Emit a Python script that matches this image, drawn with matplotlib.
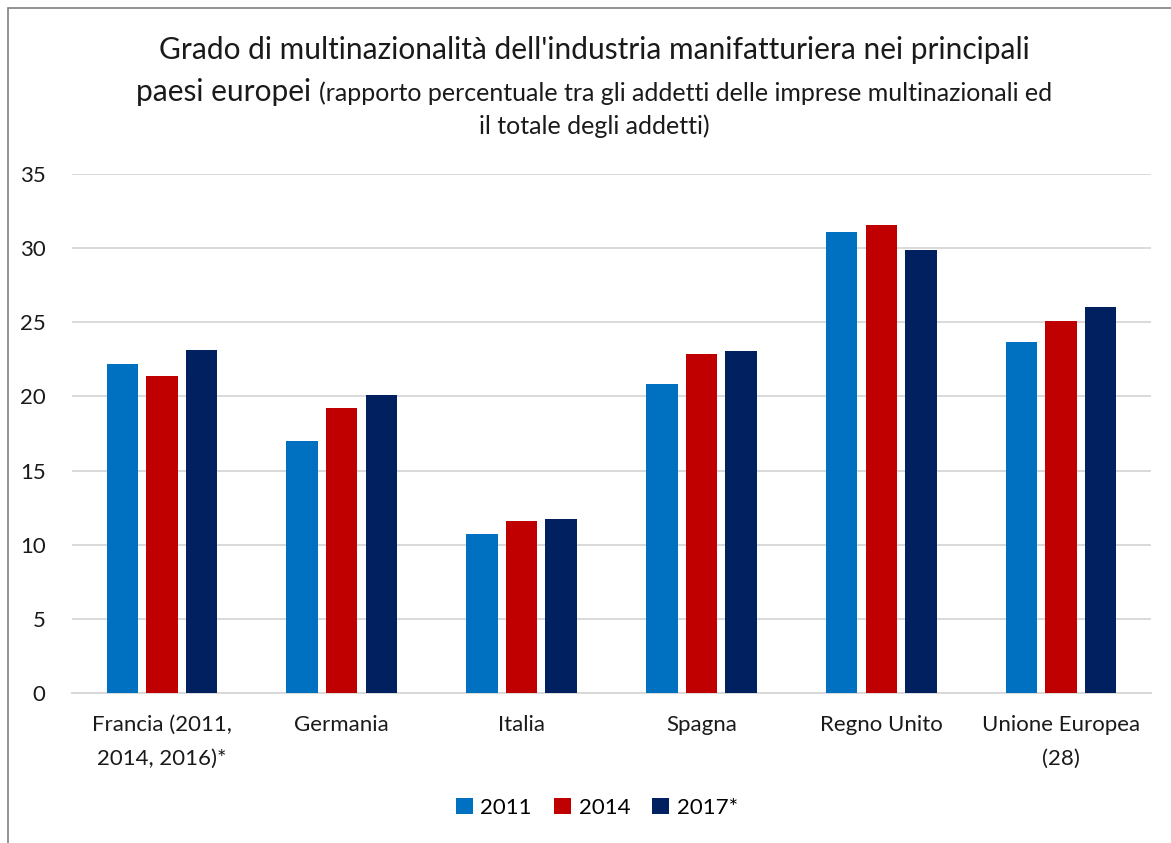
import matplotlib
matplotlib.use("Agg")
import matplotlib.pyplot as plt
import numpy as np
from matplotlib.patches import Rectangle

categories = ["Francia (2011,\n2014, 2016)*", "Germania", "Italia", "Spagna", "Regno Unito", "Unione Europea\n(28)"]
series_names = ["2011", "2014", "2017*"]
v2011 = [22.2, 17.0, 10.7, 20.85, 31.1, 23.65]
v2014 = [21.35, 19.25, 11.6, 22.85, 31.55, 25.1]
v2017 = [23.1, 20.1, 11.75, 23.05, 29.9, 26.05]
yticks = [0, 5, 10, 15, 20, 25, 30, 35]
title_line1 = "Grado di multinazionalità dell'industria manifatturiera nei principali"
title_line2a = "paesi europei "
title_line2b = "(rapporto percentuale tra gli addetti delle imprese multinazionali ed"
title_line3 = "il totale degli addetti)"

colors = ["#0070C0", "#C00000", "#002060"]
FONT = "Lato"
plt.rcParams['font.family'] = [FONT, 'DejaVu Sans']

W, H = 1171, 843
fig = plt.figure(figsize=(W / 100, H / 100), dpi=100)
ax = fig.add_axes([72 / W, 1 - 693 / H, (1151 - 72) / W, (693 - 174) / H])

x = np.arange(len(categories))
bw = 0.175
offs = [-0.22, 0.0, 0.22]
for vals, off, c, name in zip([v2011, v2014, v2017], offs, colors, series_names):
    ax.bar(x + off, vals, width=bw, color=c, label=name, zorder=3)

ax.set_xlim(-0.5, len(categories) - 0.5)
ax.set_ylim(0, 35)
ax.set_yticks(yticks)
ax.set_yticklabels([str(t) for t in yticks], fontsize=16, color="#1a1a1a")
ax.set_xticks(x)
ax.set_xticklabels(categories, fontsize=16, color="#1a1a1a", linespacing=1.85)
ax.tick_params(axis='y', length=0, pad=19)
ax.tick_params(axis='x', length=0, pad=16)
ax.grid(axis='y', color="#d9d9d9", linewidth=1.4, zorder=0)
for s in ["top", "right", "left"]:
    ax.spines[s].set_visible(False)
ax.spines["bottom"].set_color("#d9d9d9")
ax.spines["bottom"].set_linewidth(1.4)

# outer chart border
fig.patches.append(Rectangle((8 / W, -0.1), 1.2, 1 - 8 / H + 0.1, transform=fig.transFigure,
                             fill=False, edgecolor="#808080", linewidth=1.2))

# title
cx = 594 / W
fig.text(cx, 1 - 50 / H, title_line1, fontsize=21.5, ha='center', va='center', color="#1a1a1a")
t2a = fig.text(0, 1 - 92 / H, title_line2a, fontsize=21.5, ha='left', va='center', color="#1a1a1a")
t2b = fig.text(0, 1 - 93 / H, title_line2b, fontsize=18, ha='left', va='center', color="#1a1a1a")
fig.text(cx, 1 - 126 / H, title_line3, fontsize=18, ha='center', va='center', color="#1a1a1a")
fig.canvas.draw()
r = fig.canvas.get_renderer()
wa = t2a.get_window_extent(r).width
wb = t2b.get_window_extent(r).width
start = cx * W - (wa + wb) / 2
t2a.set_x(start / W)
t2b.set_x((start + wa) / W)

leg = fig.legend(loc='center', bbox_to_anchor=(597 / W, 1 - 808 / H), ncol=3, frameon=False,
                 fontsize=16, handlelength=0.75, handleheight=0.75, handletextpad=0.35,
                 columnspacing=1.0)

fig.savefig("out.png", dpi=100)
